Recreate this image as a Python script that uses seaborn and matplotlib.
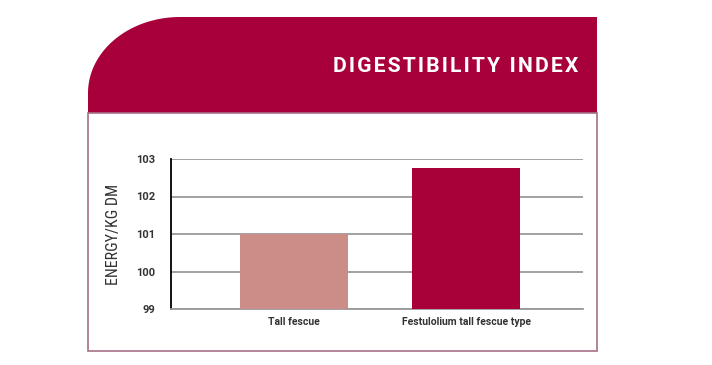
import numpy as np
import pandas as pd
import seaborn as sns
import matplotlib.pyplot as plt
from matplotlib.patches import Polygon, Rectangle

# data
categories = ['Tall fescue', 'Festulolium tall fescue type']
energy = [101.0, 102.75]
bar_colors = ['#cc8d89', '#a80038']
y_ticks = [99, 100, 101, 102, 103]

title = 'DIGESTIBILITY INDEX'
ylabel = 'ENERGY/KG DM'

sns.set_theme(style='white')
plt.rcParams['font.family'] = ['Roboto', 'DejaVu Sans']

W, H = 712, 365
fig = plt.figure(figsize=(W / 100, H / 100), dpi=100)

# background layer in pixel coordinates (frame + red header)
bg = fig.add_axes([0, 0, 1, 1])
bg.set_xlim(0, W)
bg.set_ylim(H, 0)
bg.axis('off')

red = '#a8003a'
left, right, top, hbot, bot = 88, 597, 17, 113, 351
rx, ry = 92, 76
t = np.linspace(np.pi, 1.5 * np.pi, 40)
arc = np.column_stack([left + rx + rx * np.cos(t), top + ry + ry * np.sin(t)])
pts = np.vstack([[left, hbot], arc, [right, top], [right, hbot]])
bg.add_patch(Polygon(pts, closed=True, facecolor=red, edgecolor='none'))
bg.add_patch(Rectangle((left, hbot), right - left, bot - hbot, facecolor='none',
                       edgecolor='#a77088', lw=1.2))
# spaced-out title letters
spaced = '\u200a'.join(title)
bg.text(578, 67, spaced, color='white', fontsize=15.2, fontweight='bold',
        ha='right', va='center', family=['Roboto', 'DejaVu Sans'])

# chart
ax = fig.add_axes([171 / W, (H - 309) / H, 412 / W, 150 / H])
df = pd.DataFrame({'cat': categories, 'val': energy})
sns.barplot(data=df, x='cat', y='val', hue='cat', palette=bar_colors, saturation=1,
            width=0.63, legend=False, ax=ax, zorder=3, linewidth=0)
ax.set_ylim(99, 103)
ax.set_xlim(-0.715, 1.68)
ax.set_yticks(y_ticks)
ax.set_yticklabels([str(v) for v in y_ticks], fontsize=8, fontweight='bold', color='#333333')
ax.tick_params(axis='y', length=0, pad=11)
ax.tick_params(axis='x', length=0, pad=6)
for lab in ax.get_xticklabels():
    lab.set_fontsize(7.5)
    lab.set_fontweight('bold')
    lab.set_color('#333333')
ax.yaxis.grid(True, color='#9a9a9a', lw=1.3, zorder=0)
ax.set_axisbelow(True)
ax.set_xlabel('')
ax.set_ylabel(ylabel, fontsize=11.5, color='#333333', labelpad=11,
              family=['Roboto Condensed', 'Roboto', 'DejaVu Sans'])
for s in ['top', 'right']:
    ax.spines[s].set_visible(False)
ax.spines['bottom'].set_color('#9a9a9a')
ax.spines['bottom'].set_linewidth(1.3)
ax.spines['left'].set_color('black')
ax.spines['left'].set_linewidth(1.3)

fig.savefig('out.png', dpi=100)
